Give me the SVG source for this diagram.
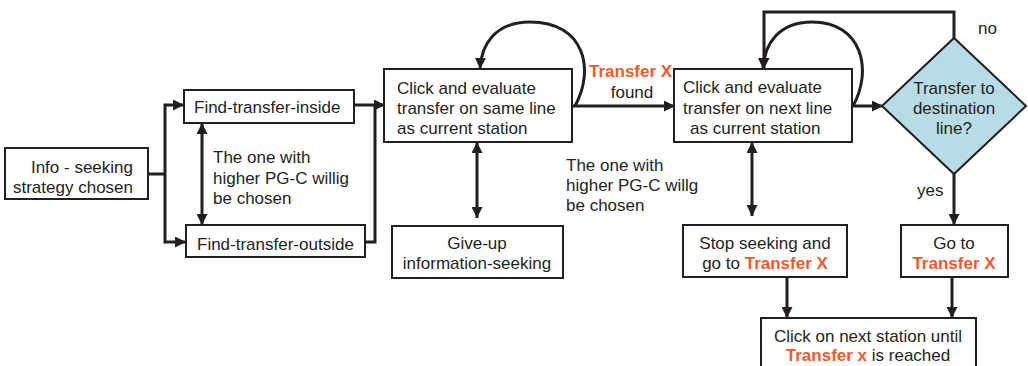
<svg xmlns="http://www.w3.org/2000/svg" width="1028" height="366" viewBox="0 0 1028 366">
  <defs>
    <style>
      .box { fill: #ffffff; stroke: #231f20; stroke-width: 2; }
      .dec { fill: #b8dce6; stroke: #231f20; stroke-width: 2; }
      .t { font-family: "Liberation Sans", Arial, sans-serif; font-size: 17px; fill: #231f20; }
      .hl { font-weight: bold; fill: #ef5a2c; }
      .c { text-anchor: middle; }
      .e { text-anchor: end; }
      .wire { fill: none; stroke: #231f20; stroke-width: 3; }
      .arr { marker-end: url(#head); }
      .both { marker-start: url(#head); marker-end: url(#head); }
    </style>
    <marker id="head" viewBox="0 0 10 10" refX="10" refY="5" markerWidth="11" markerHeight="11" markerUnits="userSpaceOnUse" orient="auto-start-reverse">
      <path d="M0,0 L10,5 L0,10 z" fill="#231f20"/>
    </marker>
  </defs>

  <rect width="1028" height="366" fill="#ffffff"/>

  <!-- connectors -->
  <g id="connectors">
    <path class="wire" d="M148 174 H165"/>
    <path class="wire arr" d="M165 174 V105 H184"/>
    <path class="wire arr" d="M165 174 V242 H186"/>
    <path class="wire both" d="M202 123 V225"/>
    <path class="wire arr" d="M354 105 H385"/>
    <path class="wire" d="M365 242 H375 V105"/>
    <path class="wire arr" d="M572 106 H675"/>
    <path class="wire arr" d="M575 106 C 595 70, 585 22, 530 22 C 495 22, 481 45, 480 69"/>
    <path class="wire both" d="M477 142 V218"/>
    <path class="wire arr" d="M852 106 H883"/>
    <path class="wire arr" d="M853 106 C 873 70, 862 22, 812 22 C 778 22, 764 45, 763 69"/>
    <path class="wire arr" d="M954 38 V12 H764 V69"/>
    <path class="wire both" d="M752 142 V216"/>
    <path class="wire arr" d="M954 174 V225"/>
    <path class="wire arr" d="M787 277 V318"/>
    <path class="wire arr" d="M952 277 V318"/>
  </g>

  <!-- edge labels -->
  <g id="labels">
    <text class="t" x="213" y="163">The one with</text>
    <text class="t" x="213" y="184">higher PG-C willig</text>
    <text class="t" x="213" y="204">be chosen</text>
    <text class="t hl" x="589" y="77">Transfer X</text>
    <text class="t c" x="632" y="98">found</text>
    <text class="t" x="566" y="171">The one with</text>
    <text class="t" x="566" y="191">higher PG-C willg</text>
    <text class="t" x="566" y="211">be chosen</text>
    <text class="t" x="978" y="34">no</text>
    <text class="t" x="917" y="196">yes</text>
  </g>

  <g id="info">
    <rect class="box" x="5" y="148" width="143" height="51"/>
    <text class="t e" x="133" y="173">Info - seeking</text>
    <text class="t e" x="133" y="193">strategy chosen</text>
  </g>

  <g id="find-inside">
    <rect class="box" x="184" y="90" width="170" height="33"/>
    <text class="t" x="194" y="113">Find-transfer-inside</text>
  </g>

  <g id="find-outside">
    <rect class="box" x="186" y="225" width="179" height="32"/>
    <text class="t" x="197" y="250">Find-transfer-outside</text>
  </g>

  <g id="same-line">
    <rect class="box" x="384" y="69" width="188" height="73"/>
    <text class="t" x="397" y="94">Click and evaluate</text>
    <text class="t" x="397" y="114">transfer on same line</text>
    <text class="t" x="397" y="134">as current station</text>
  </g>

  <g id="give-up">
    <rect class="box" x="392" y="226" width="171" height="52"/>
    <text class="t c" x="477" y="249">Give-up</text>
    <text class="t c" x="477" y="269">information-seeking</text>
  </g>

  <g id="next-line">
    <rect class="box" x="674" y="69" width="178" height="73"/>
    <text class="t" x="683" y="93">Click and evaluate</text>
    <text class="t" x="683" y="114">transfer on next line</text>
    <text class="t" x="690" y="134">as current station</text>
  </g>

  <g id="destination">
    <polygon class="dec" points="882,106 954,38 1026,106 954,174"/>
    <text class="t c" x="954" y="94">Transfer to</text>
    <text class="t c" x="954" y="114">destination</text>
    <text class="t c" x="954" y="134">line?</text>
  </g>

  <g id="stop-seeking">
    <rect class="box" x="683" y="225" width="164" height="52"/>
    <text class="t c" x="765" y="249">Stop seeking and</text>
    <text class="t c" x="765" y="269">go to <tspan class="hl">Transfer X</tspan></text>
  </g>

  <g id="go-to">
    <rect class="box" x="901" y="225" width="107" height="52"/>
    <text class="t c" x="954" y="249">Go to</text>
    <text class="t c hl" x="954" y="269">Transfer X</text>
  </g>

  <g id="next-station">
    <rect class="box" x="761" y="318" width="215" height="60"/>
    <text class="t c" x="868" y="342">Click on next station until</text>
    <text class="t c" x="868" y="361"><tspan class="hl">Transfer x</tspan> is reached</text>
  </g>
</svg>
